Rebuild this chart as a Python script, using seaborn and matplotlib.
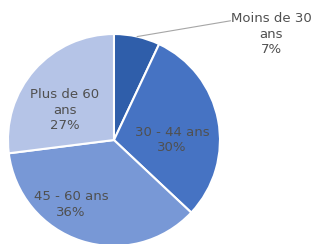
import numpy as np
import seaborn as sns
import matplotlib.pyplot as plt

# --- data ---
categories = ["Moins de 30\nans", "30 - 44 ans", "45 - 60 ans", "Plus de 60\nans"]
shares = [7, 30, 36, 27]
colors = ["#2f5eaa", "#4673c3", "#7898d6", "#b5c4e7"]

sns.set_style("white")
plt.rcParams["font.family"] = ["DejaVu Sans"]

fig = plt.figure(figsize=(3.19, 2.44), dpi=100)
ax = fig.add_axes([0, 0, 1, 1])

wedges, _ = ax.pie(
    shares,
    colors=colors,
    startangle=90,
    counterclock=False,
    radius=1.0,
    wedgeprops=dict(edgecolor="white", linewidth=1.5),
)

ax.set_xlim(-1.075, 1.934)
ax.set_ylim(-0.981, 1.321)
ax.set_aspect("auto")
ax.axis("off")

# label positions (data units, pie radius = 1)
label_pos = [(1.485, 1.0), (0.547, 0.0), (-0.406, -0.61), (-0.462, 0.283)]
txt_color = "#505050"
for w, lab, s, (lx, ly) in zip(wedges, categories, shares, label_pos):
    ax.text(lx, ly, f"{lab}\n{s}%", ha="center", va="center",
            fontsize=9.5, color=txt_color, linespacing=1.25)

# leader line for the small slice
w0 = wedges[0]
mid = np.deg2rad((w0.theta1 + w0.theta2) / 2)
ax.plot([np.cos(mid), 1.10], [np.sin(mid), 1.125], color="#a6a6a6", lw=0.8)

fig.savefig("out.png", dpi=100)
